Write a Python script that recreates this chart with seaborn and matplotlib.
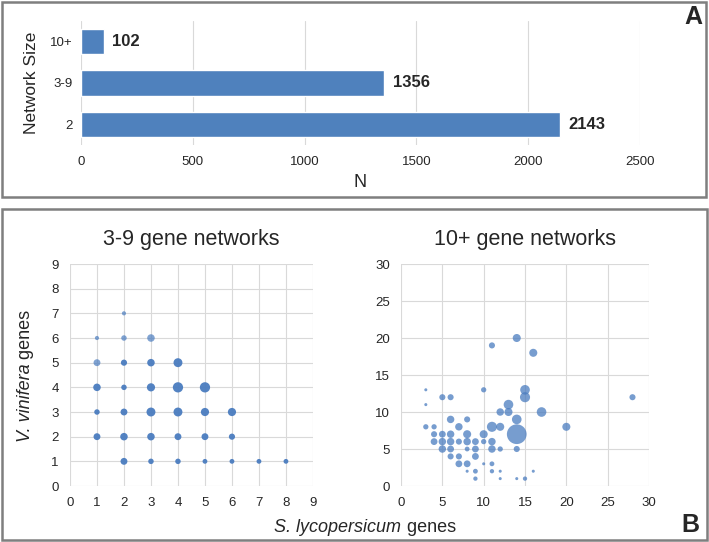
import matplotlib
matplotlib.use("Agg")
import numpy as np
import pandas as pd
import matplotlib.pyplot as plt
import seaborn as sns
from matplotlib.patches import Rectangle

# --- panel A: number of networks per size class
size_labels = ["10+", "3-9", "2"]
size_counts = [102, 1356, 2143]

# --- panel B left: 3-9 gene networks (S. lycopersicum genes, V. vinifera genes, networks)
x39 = [2, 1, 2, 3, 1, 2, 3, 4, 1, 2, 3, 4, 5, 1, 2, 3, 4, 5, 6, 1, 2, 3, 4, 5, 6, 2, 3, 4, 5, 6, 7, 8]
y39 = [7, 6, 6, 6, 5, 5, 5, 5, 4, 4, 4, 4, 4, 3, 3, 3, 3, 3, 3, 2, 2, 2, 2, 2, 2, 1, 1, 1, 1, 1, 1, 1]
n39 = [15, 15, 26, 49, 41, 33, 49, 69, 49, 26, 58, 91, 91, 26, 41, 69, 69, 58, 58,
       41, 49, 49, 41, 41, 33, 41, 26, 26, 20, 20, 20, 20]
pale39 = [1, 1, 1, 1, 1] + [0] * 27

# --- panel B right: 10+ gene networks (bubble weight)
x10 = [14, 11, 16, 3, 10, 15, 5, 6, 15, 28, 3, 13, 12, 13, 17, 6, 8, 14,
       3, 4, 7, 11, 12, 20, 4, 5, 6, 8, 10, 14,
       4, 5, 6, 7, 8, 9, 10, 11, 5, 6, 8, 9, 11, 12, 14,
       6, 7, 9, 7, 8, 10, 11, 8, 9, 11, 12, 16, 9, 12, 14, 15]
y10 = [20, 19, 18, 13, 13, 13, 12, 12, 12, 12, 11, 11, 10, 10, 10, 9, 9, 9,
       8, 8, 8, 8, 8, 8, 7, 7, 7, 7, 7, 7,
       6, 6, 6, 6, 6, 6, 6, 6, 5, 5, 5, 5, 5, 5, 5,
       4, 4, 4, 3, 3, 3, 3, 2, 2, 2, 2, 2, 1, 1, 1, 1]
w10 = [14, 8, 14, 2, 6, 20, 8, 8, 22, 8, 2, 20, 12, 14, 20, 12, 8, 20,
       6, 6, 12, 22, 14, 14, 8, 10, 12, 14, 14, 84,
       10, 12, 12, 8, 12, 10, 6, 12, 12, 10, 5, 10, 12, 6, 8,
       8, 8, 10, 10, 10, 2, 5, 2, 5, 4, 2, 2, 4, 2, 2, 4]

df39 = pd.DataFrame({"sl": x39, "vv": y39, "n": n39, "pale": pale39})
df10 = pd.DataFrame({"sl": x10, "vv": y10, "w": w10})

sns.set_theme(style="white")
plt.rcParams["font.family"] = ["Liberation Sans", "DejaVu Sans"]

bar_col = "#4f81bd"
dot_col = "#4a7cbf"
grid_col = "#d9d9d9"
txt_col = "#262626"

fig = plt.figure(figsize=(7.09, 5.42), dpi=100)

# ---------- panel A
ax_a = fig.add_axes([0.1142, 0.7325, 0.7885, 0.2288])
sns.barplot(x=size_counts, y=size_labels, orient="h", color=bar_col,
            saturation=1, width=0.62, ax=ax_a)
ax_a.set_xlim(0, 2500)
ax_a.set_xticks(range(0, 2501, 500))
ax_a.xaxis.grid(True, color=grid_col, lw=0.8)
ax_a.set_axisbelow(True)
for s in ax_a.spines.values():
    s.set_visible(False)
ax_a.tick_params(axis="x", length=0, pad=8, labelsize=9.5, labelcolor=txt_col)
ax_a.tick_params(axis="y", length=0, pad=6, labelsize=9.5, labelcolor=txt_col)
ax_a.bar_label(ax_a.containers[0], padding=6, fontsize=12, fontweight="bold")
ax_a.set_xlabel("N", fontsize=13, labelpad=4)
ax_a.set_ylabel("Network Size", fontsize=12.5, labelpad=8)


def style_bubble_ax(ax, lim, step):
    ax.set_xlim(0, lim)
    ax.set_ylim(0, lim)
    ax.set_xticks(np.arange(0, lim + 1, step))
    ax.set_yticks(np.arange(0, lim + 1, step))
    ax.grid(True, color=grid_col, lw=0.8)
    ax.set_axisbelow(True)
    for s in ax.spines.values():
        s.set_visible(False)
    ax.tick_params(length=0, pad=8, labelsize=9.5, labelcolor=txt_col)
    ax.set_xlabel("")
    ax.set_ylabel("")
    for c in ax.collections:
        c.set_clip_on(False)


# ---------- panel B left
ax_b1 = fig.add_axes([0.0987, 0.1033, 0.3427, 0.4096])
sns.scatterplot(data=df39[df39.pale == 0], x="sl", y="vv", size="n",
                sizes=(0, 60), size_norm=(0, 100), color=dot_col, alpha=0.95,
                linewidth=0, legend=False, ax=ax_b1)
sns.scatterplot(data=df39[df39.pale == 1], x="sl", y="vv", size="n",
                sizes=(0, 60), size_norm=(0, 100), color=dot_col, alpha=0.7,
                linewidth=0, legend=False, ax=ax_b1)
style_bubble_ax(ax_b1, 9, 1)
ax_b1.set_title("3-9 gene networks", fontsize=15.5, pad=14)

# ---------- panel B right
ax_b2 = fig.add_axes([0.5656, 0.1033, 0.3498, 0.4096])
sns.scatterplot(data=df10, x="sl", y="vv", size="w",
                sizes=(0, 240), size_norm=(0, 100), color=dot_col, alpha=0.75,
                linewidth=0, legend=False, ax=ax_b2)
style_bubble_ax(ax_b2, 30, 5)
ax_b2.set_title("10+ gene networks", fontsize=15.5, pad=14)

# axis titles shared by both bubble plots (species names in italics)
t1 = fig.text(338 / 709, 1 - 528 / 542, "S. lycopersicum", fontstyle="italic",
              ha="center", va="center", fontsize=13)
ax_b1.annotate(" genes", xy=(1, 0.5), xycoords=t1, va="center", ha="left",
               fontsize=13, annotation_clip=False)
t2 = fig.text(25 / 709, 1 - 403 / 542, "V. vinifera", fontstyle="italic",
              ha="center", va="center", rotation=90, fontsize=13)
ax_b1.annotate(" genes", xy=(0.5, 1), xycoords=t2, va="bottom", ha="center",
               rotation=90, fontsize=13, annotation_clip=False)

# panel letters and frames
fig.text(693 / 709, 1 - 17 / 542, "A", ha="center", va="center",
         fontsize=18, fontweight="bold")
fig.text(690 / 709, 1 - 525 / 542, "B", ha="center", va="center",
         fontsize=18, fontweight="bold")
fig.add_artist(Rectangle((2 / 709, 1 - 197 / 542), 704 / 709, 195 / 542,
                         transform=fig.transFigure, fill=False,
                         ec="#7f7f7f", lw=1.8))
fig.add_artist(Rectangle((2 / 709, 1 - 540 / 542), 705 / 709, 331 / 542,
                         transform=fig.transFigure, fill=False,
                         ec="#7f7f7f", lw=1.8))

fig.savefig("out.png", dpi=100)
